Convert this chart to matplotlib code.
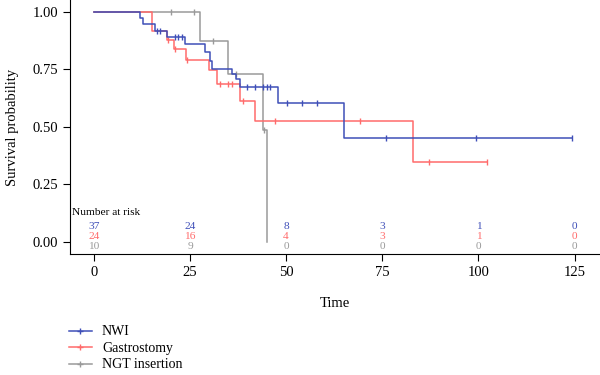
import numpy as np
import matplotlib
matplotlib.use("Agg")
import matplotlib.pyplot as plt
from matplotlib.lines import Line2D

plt.rcParams['font.family'] = ['Liberation Serif', 'DejaVu Serif']

# groups and colours
groups = ['NWI', 'Gastrostomy', 'NGT insertion']
colors = ['#3f4fb8', '#ff6b6b', '#9a9a9a']

# step times / survival
nwi_t = [0, 12, 12.8, 16, 19, 23.8, 29, 30.3, 30.8, 35.8, 36.9, 38, 47.9, 65]
nwi_s = [1, 0.973, 0.946, 0.919, 0.892, 0.860, 0.824, 0.788, 0.752, 0.729, 0.707, 0.675, 0.605, 0.454]
nwi_cens = [16.5, 17.3, 21, 22, 23, 39.7, 41.9, 44, 44.9, 45.8, 50.2, 54, 58.1, 76, 99.3, 124.3]
nwi_end = 124.3

gas_t = [0, 15, 19, 20.9, 24, 30, 32, 38, 41.9, 83.1]
gas_s = [1, 0.917, 0.880, 0.838, 0.790, 0.746, 0.688, 0.611, 0.524, 0.349]
gas_cens = [19.2, 21.2, 24.3, 32.8, 34.9, 35.8, 38.8, 47.1, 69.2, 87.2, 102.3]
gas_end = 102.3

ngt_t = [0, 27.6, 35, 44, 45]
ngt_s = [1, 0.875, 0.729, 0.486, 0]
ngt_cens = [20, 26, 31, 37, 44.3]
ngt_end = 45

# number at risk
risk_times = [0, 25, 50, 75, 100, 125]
nwi_risk = [37, 24, 8, 3, 1, 0]
gas_risk = [24, 16, 4, 3, 1, 0]
ngt_risk = [10, 9, 0, 0, 0, 0]


def surv_at(t, times, surv):
    idx = np.searchsorted(times, t, side='right') - 1
    return np.array(surv)[idx]


fig = plt.figure(figsize=(6, 3.75), dpi=100)
ax = fig.add_axes([0.1167, 0.323, 0.8833, 0.677])

curves = [(nwi_t, nwi_s, nwi_cens, nwi_end),
          (gas_t, gas_s, gas_cens, gas_end),
          (ngt_t, ngt_s, ngt_cens, ngt_end)]

# draw grey first so coloured lines sit on top
for i in [2, 1, 0]:
    t, s, cens, end = curves[i]
    tt = list(t) + [end]
    ss = list(s) + [s[-1]]
    ax.step(tt, ss, where='post', color=colors[i], lw=1.1)
    ax.plot(cens, surv_at(cens, t, s), ls='none', marker='|', ms=5,
            mew=1.0, color=colors[i])

# risk table
ax.text(-5.8, 0.127, 'Number at risk', fontsize=8.2, ha='left', va='center')
rows = [nwi_risk, gas_risk, ngt_risk]
row_y = [0.067, 0.023, -0.020]
for i, r in enumerate(rows):
    for x, n in zip(risk_times, r):
        ax.text(x, row_y[i], str(n), fontsize=8.2, color=colors[i],
                ha='center', va='center')

ax.set_xlim(-6.2, 131.6)
ax.set_ylim(-0.052, 1.052)
ax.set_xticks(risk_times)
ax.set_yticks([0, 0.25, 0.5, 0.75, 1.0])
ax.set_yticklabels(['0.00', '0.25', '0.50', '0.75', '1.00'])
ax.spines['top'].set_visible(False)
ax.spines['right'].set_visible(False)
ax.tick_params(direction='out', length=5, labelsize=10.5, colors='black')
ax.set_xlabel('Time', fontsize=10.5, labelpad=13)
ax.set_ylabel('Survival probability', fontsize=10.5, labelpad=10)

handles = [Line2D([0], [0], color=c, lw=1.1, marker='+', ms=5, mew=1.0)
           for c in colors]
fig.legend(handles, groups, loc='upper left', bbox_to_anchor=(0.105, 0.147),
           frameon=False, fontsize=10, handlelength=1.7, handletextpad=0.7,
           labelspacing=0.25, borderaxespad=0)

fig.savefig('out.png', dpi=100)
